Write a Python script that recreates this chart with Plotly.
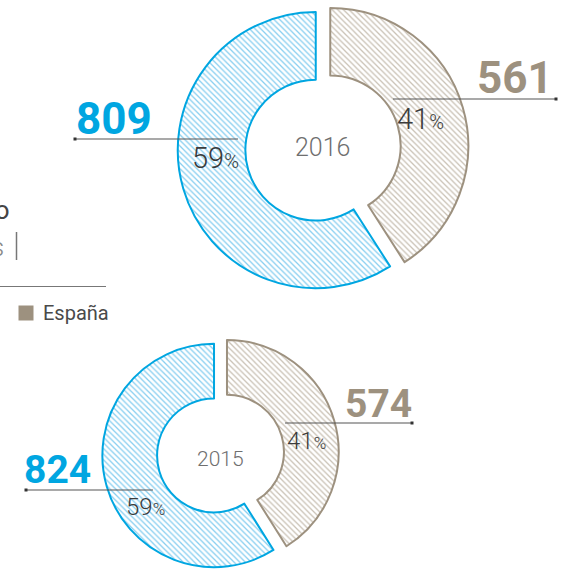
import math
import plotly.graph_objects as go

W, H = 566, 572

# ---------------- data ----------------
years = ["2016", "2015"]
labels = ["España", "Internacional"]
espana = [561, 574]
internacional = [809, 824]

# ---------------- style ----------------
BLUE = "#00a6e1"
BLUE_HATCH = "#86cef0"
BEIGE = "#9d917f"
BEIGE_HATCH = "#c9c1b4"
DARK = "#3b3b3b"
GREY = "#6f6f6f"
LINE = "#555555"
FONT = "Roboto"


def px(x):
    return x / W


def py(y):
    return 1 - y / H


# donut layout in pixels: centre, radius, gap, text positions
geo = [
    dict(cx=323, cy=148, r=138, gap=14.5, hole=0.51,
         big=44, pct=29, pctsmall=20, year=25, year_y=147,
         i_val=(74, 119), i_line=(75, 238, 139), i_pct=(190, 158),
         e_val=(555, 78), e_line=(393, 556, 99), e_pct=(395, 119)),
    dict(cx=220.5, cy=454, r=112, gap=13, hole=0.51,
         big=39, pct=24, pctsmall=17, year=21, year_y=459,
         i_val=(22, 470), i_line=(26, 153, 490), i_pct=(124, 507),
         e_val=(414, 404), e_line=(285, 412, 423), e_pct=(285, 441)),
]

fig = go.Figure()
annotations = []
shapes = []

for k, g in enumerate(geo):
    tot = espana[k] + internacional[k]
    frac_e = espana[k] / tot
    pull = g["gap"] / (2 * g["r"] * math.sin(frac_e * math.pi))
    half = g["r"] * (1 + pull)
    dx = [max(0, (g["cx"] - half) / W), min(1, (g["cx"] + half) / W)]
    dy = [max(0, (H - g["cy"] - half) / H), min(1, (H - g["cy"] + half) / H)]
    fig.add_trace(go.Pie(
        values=[espana[k], internacional[k]],
        labels=labels,
        sort=False,
        direction="clockwise",
        rotation=0,
        hole=g["hole"],
        pull=[pull, pull],
        textinfo="none",
        hoverinfo="label+value+percent",
        marker=dict(
            colors=["white", "white"],
            line=dict(color=[BEIGE, BLUE], width=2),
            pattern=dict(shape="\\", fgcolor=[BEIGE_HATCH, BLUE_HATCH],
                         bgcolor="white", size=4, solidity=0.32),
        ),
        domain=dict(x=dx, y=dy),
        showlegend=False,
    ))

    pct_i = round(100 * internacional[k] / tot)
    pct_e = round(100 * espana[k] / tot)

    # year in centre
    annotations.append(dict(
        x=px(g["cx"]), y=py(g["year_y"]), text=years[k], showarrow=False,
        xanchor="center", yanchor="middle",
        font=dict(family=FONT, size=g["year"], color=GREY, weight=300)))

    # internacional value + percent
    annotations.append(dict(
        x=px(g["i_val"][0]), y=py(g["i_val"][1]), text=f"<b>{internacional[k]}</b>",
        showarrow=False, xanchor="left", yanchor="middle",
        font=dict(family=FONT, size=g["big"], color=BLUE)))
    annotations.append(dict(
        x=px(g["i_pct"][0]), y=py(g["i_pct"][1]),
        text=f"{pct_i}<span style='font-size:{g['pctsmall']}px'>%</span>",
        showarrow=False, xanchor="left", yanchor="middle",
        font=dict(family=FONT, size=g["pct"], color=DARK, weight=300)))

    # espana value + percent
    annotations.append(dict(
        x=px(g["e_val"][0]), y=py(g["e_val"][1]), text=f"<b>{espana[k]}</b>",
        showarrow=False, xanchor="right", yanchor="middle",
        font=dict(family=FONT, size=g["big"], color=BEIGE)))
    annotations.append(dict(
        x=px(g["e_pct"][0]), y=py(g["e_pct"][1]),
        text=f"{pct_e}<span style='font-size:{g['pctsmall']}px'>%</span>",
        showarrow=False, xanchor="left", yanchor="middle",
        font=dict(family=FONT, size=g["pct"], color=DARK, weight=300)))

    # leader lines with square end dots
    x0, x1, yl = g["i_line"]
    shapes.append(dict(type="line", xref="paper", yref="paper",
                       x0=px(x0), x1=px(x1), y0=py(yl), y1=py(yl),
                       line=dict(color=LINE, width=1.2)))
    shapes.append(dict(type="rect", xref="paper", yref="paper",
                       x0=px(x0 - 1.5), x1=px(x0 + 1.5), y0=py(yl - 1.5), y1=py(yl + 1.5),
                       fillcolor="#333333", line=dict(width=0)))
    x0, x1, yl = g["e_line"]
    shapes.append(dict(type="line", xref="paper", yref="paper",
                       x0=px(x0), x1=px(x1), y0=py(yl), y1=py(yl),
                       line=dict(color=LINE, width=1.2)))
    shapes.append(dict(type="rect", xref="paper", yref="paper",
                       x0=px(x1 - 1.5), x1=px(x1 + 1.5), y0=py(yl - 1.5), y1=py(yl + 1.5),
                       fillcolor="#333333", line=dict(width=0)))

# ---------- partially visible title block on the left ----------
annotations.append(dict(
    x=px(10.5), y=py(210), text="Plantilla por ámbito geográfico", showarrow=False,
    xanchor="right", yanchor="middle",
    font=dict(family=FONT, size=26, color="#444444")))
annotations.append(dict(
    x=px(6), y=py(247), text="Número de empleados", showarrow=False,
    xanchor="right", yanchor="middle",
    font=dict(family=FONT, size=26, color="#8a8a8a", weight=300)))
shapes.append(dict(type="line", xref="paper", yref="paper",
                   x0=px(16.5), x1=px(16.5), y0=py(232), y1=py(260),
                   line=dict(color="#777777", width=1.5)))
shapes.append(dict(type="line", xref="paper", yref="paper",
                   x0=0, x1=px(106), y0=py(286.5), y1=py(286.5),
                   line=dict(color="#777777", width=1)))
# legend entry
shapes.append(dict(type="rect", xref="paper", yref="paper",
                   x0=px(18.5), x1=px(33.5), y0=py(320.5), y1=py(305.5),
                   fillcolor=BEIGE, line=dict(width=0)))
annotations.append(dict(
    x=px(41), y=py(313), text=labels[0], showarrow=False,
    xanchor="left", yanchor="middle",
    font=dict(family=FONT, size=20, color="#4a4a4a")))

fig.update_layout(
    width=W, height=H,
    margin=dict(l=0, r=0, t=0, b=0),
    paper_bgcolor="white", plot_bgcolor="white",
    annotations=annotations, shapes=shapes,
    showlegend=False,
)

fig.write_html(
    "out.html",
    config={"displayModeBar": False},
    post_script="document.body.style.margin='0';document.body.style.overflow='hidden';",
)
